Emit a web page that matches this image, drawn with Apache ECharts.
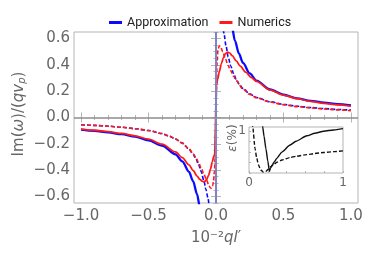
<!DOCTYPE html>
<html><head><meta charset="utf-8">
<script src="https://cdn.jsdelivr.net/npm/echarts@6/dist/echarts.min.js"></script>
<style>html,body{margin:0;padding:0;background:#fff}#c{width:374px;height:253px}</style>
</head><body><div id="c"></div>
<script>
// ---- tick values ----
const xTickLabels = [-1.0, -0.5, 0.0, 0.5, 1.0];
const xMinorTicks = [-1.0,-0.9,-0.8,-0.7,-0.6,-0.5,-0.4,-0.3,-0.2,-0.1,0.0,0.1,0.2,0.3,0.4,0.5,0.6,0.7,0.8,0.9,1.0];
const yTickLabels = [-0.6, -0.4, -0.2, 0.0, 0.2, 0.4, 0.6];
const yMinorTicks = [-0.65,-0.6,-0.55,-0.5,-0.45,-0.4,-0.35,-0.3,-0.25,-0.2,-0.15,-0.1,-0.05,0,0.05,0.1,0.15,0.2,0.25,0.3,0.35,0.4,0.45,0.5,0.55,0.6,0.65];
const insetXLabels = [0, 1];
const insetXMinor = [0,0.2,0.4,0.6,0.8,1.0];
const insetYLabels = [1];
const insetYMinor = [0,0.25,0.5,0.75,1.0];

// ---- Approximation, solid ----
const approxSolidNegX = [-1.0,-0.9,-0.8,-0.7,-0.6,-0.5,-0.4,-0.3,-0.25,-0.2,-0.17,-0.14,-0.12,-0.11];
const approxSolidNegY = [-0.093,-0.102,-0.113,-0.127,-0.146,-0.173,-0.213,-0.28,-0.333,-0.413,-0.484,-0.584,-0.68,-0.74];
const approxSolidPosX = [0.11,0.12,0.14,0.17,0.2,0.25,0.3,0.4,0.5,0.6,0.7,0.8,0.9,1.0];
const approxSolidPosY = [0.74,0.68,0.585,0.485,0.415,0.335,0.28,0.213,0.173,0.146,0.127,0.113,0.101,0.092];
// ---- Approximation, dashed ----
const approxDashNegX = [-1.0,-0.9,-0.8,-0.7,-0.6,-0.5,-0.4,-0.35,-0.3,-0.25,-0.2,-0.17,-0.15,-0.13,-0.11,-0.09,-0.075,-0.06,-0.05,-0.045];
const approxDashNegY = [-0.055,-0.06,-0.066,-0.074,-0.085,-0.099,-0.122,-0.14,-0.163,-0.195,-0.24,-0.28,-0.31,-0.355,-0.41,-0.48,-0.545,-0.61,-0.665,-0.71];
const approxDashPosX = [0.045,0.05,0.06,0.075,0.09,0.11,0.13,0.15,0.17,0.2,0.25,0.3,0.4,0.5,0.6,0.7,0.8,0.9,1.0];
const approxDashPosY = [0.76,0.71,0.63,0.54,0.46,0.39,0.335,0.29,0.255,0.22,0.18,0.152,0.12,0.1,0.086,0.076,0.068,0.061,0.056];
// ---- Numerics, solid ----
const numSolidX = [-1.0,-0.9,-0.8,-0.7,-0.6,-0.5,-0.4,-0.3,-0.25,-0.2,-0.17,-0.14,-0.12,-0.1,-0.085,-0.07,-0.055,-0.04,-0.028,-0.018,-0.01,0.004,0.012,0.025,0.04,0.055,0.07,0.085,0.1,0.12,0.15,0.18,0.22,0.26,0.3,0.4,0.5,0.6,0.7,0.8,0.9,1.0];
const numSolidY = [-0.088,-0.097,-0.108,-0.121,-0.139,-0.165,-0.203,-0.262,-0.305,-0.36,-0.403,-0.445,-0.47,-0.486,-0.488,-0.472,-0.44,-0.39,-0.34,-0.3,-0.28,0.25,0.29,0.35,0.41,0.455,0.485,0.497,0.492,0.47,0.43,0.39,0.345,0.305,0.275,0.21,0.17,0.143,0.123,0.108,0.096,0.087];
// ---- Numerics, dashed ----
const numDashX = [-1.0,-0.9,-0.8,-0.7,-0.6,-0.5,-0.4,-0.35,-0.3,-0.25,-0.2,-0.17,-0.15,-0.13,-0.11,-0.09,-0.07,-0.055,-0.042,-0.033,-0.025,-0.018,-0.012,-0.006,-0.002,0.002,0.008,0.015,0.025,0.035,0.05,0.07,0.09,0.11,0.13,0.15,0.2,0.25,0.3,0.4,0.5,0.6,0.7,0.8,0.9,1.0];
const numDashY = [-0.055,-0.06,-0.066,-0.074,-0.085,-0.099,-0.122,-0.14,-0.163,-0.195,-0.238,-0.275,-0.302,-0.34,-0.385,-0.43,-0.475,-0.51,-0.535,-0.538,-0.52,-0.48,-0.41,-0.3,-0.1,0.15,0.42,0.52,0.545,0.535,0.5,0.445,0.395,0.355,0.315,0.28,0.215,0.176,0.15,0.118,0.097,0.083,0.073,0.065,0.058,0.052];
// ---- Inset: epsilon (%) ----
const epsSolidX = [0.14,0.146,0.16,0.18,0.2,0.217,0.23,0.25,0.27,0.295,0.35,0.437,0.5,0.615,0.7,0.794,0.9,1.0];
const epsSolidY = [1.2,1.1,0.88,0.58,0.29,0.04,0.12,0.2,0.27,0.35,0.5,0.67,0.76,0.89,0.95,1.0,1.03,1.06];
const epsDashX = [0.035,0.04,0.064,0.08,0.1,0.125,0.153,0.18,0.206,0.23,0.26,0.3,0.35,0.437,0.5,0.615,0.7,0.794,0.9,1.0];
const epsDashY = [1.2,1.1,0.59,0.38,0.2,0.07,0.02,0.04,0.09,0.15,0.2,0.26,0.31,0.37,0.40,0.44,0.465,0.49,0.51,0.53];

const zip = (a, b) => a.map((v, i) => [v, b[i]]);
const BLUE = '#0a0aff', RED = '#ff1a1a', FRAME = '#b4b4b4', TXT = '#666';
const FONT = 'DejaVu Sans';
const fmt = v => (v < 0 ? '\u2212' : '') + Math.abs(v).toFixed(1);

function xAx(grid, pos, ticks, len, labels, min, max) {
  return {
    type: 'value', gridIndex: grid, position: pos, min: min, max: max,
    axisLine: { show: false }, splitLine: { show: false },
    axisTick: { show: true, inside: true, length: len, customValues: ticks, lineStyle: { color: FRAME, width: 1 } },
    axisLabel: labels ? { show: true, customValues: labels, formatter: labels.fmt || fmt, color: TXT, fontFamily: FONT, fontSize: labels.size || 15, margin: labels.margin || 5 } : { show: false }
  };
}

const chart = echarts.init(document.getElementById('c'), null, { renderer: 'canvas' });
const insetLbl = insetXLabels.slice(); insetLbl.fmt = v => String(Math.round(v)); insetLbl.size = 12; insetLbl.margin = 4;
const insetYL = insetYLabels.slice(); insetYL.fmt = v => String(Math.round(v)); insetYL.size = 12; insetYL.margin = 3;
const xl = xTickLabels.slice(); xl.margin = 6;
const yl = yTickLabels.slice(); yl.margin = 4;

const lineBase = { type: 'line', showSymbol: false, symbol: 'none', smooth: 0.3, smoothMonotone: 'x', clip: true, xAxisIndex: 0, yAxisIndex: 0, animation: false };

chart.setOption({
  animation: false,
  backgroundColor: '#fff',
  legend: {
    top: 11, left: 104, itemWidth: 13, itemHeight: 3, itemGap: 11, icon: 'rect',
    data: ['Approximation', 'Numerics'],
    textStyle: { fontFamily: 'Roboto', fontSize: 12.5, color: '#222', padding: [0, 0, 0, 0] }
  },
  grid: [
    { left: 74, top: 32, width: 284, height: 171, show: true, borderColor: FRAME, borderWidth: 1, backgroundColor: 'transparent' },
    { left: 249, top: 127, width: 94, height: 46, show: true, borderColor: FRAME, borderWidth: 1, backgroundColor: '#fff', z: 5 }
  ],
  xAxis: [
    xAx(0, 'bottom', xTickLabels, 5, xl, -1.052, 1.052),
    xAx(0, 'bottom', xMinorTicks, 2.5, null, -1.052, 1.052),
    xAx(0, 'top', xTickLabels, 5, null, -1.052, 1.052),
    xAx(0, 'top', xMinorTicks, 2.5, null, -1.052, 1.052),
    Object.assign(xAx(1, 'bottom', insetXMinor, 2, insetLbl, 0, 1), { z: 6 })
  ],
  yAxis: [
    xAx(0, 'left', yTickLabels, 5, yl, -0.65, 0.65),
    xAx(0, 'left', yMinorTicks, 2.5, null, -0.65, 0.65),
    xAx(0, 'right', yTickLabels, 5, null, -0.65, 0.65),
    xAx(0, 'right', yMinorTicks, 2.5, null, -0.65, 0.65),
    Object.assign(xAx(1, 'left', insetYMinor, 2, insetYL, 0, 1.1), { z: 6 })
  ],
  series: [
    Object.assign({}, lineBase, { name: 'Approximation', data: zip(approxSolidNegX, approxSolidNegY), lineStyle: { color: BLUE, width: 2.3 }, itemStyle: { color: BLUE }, z: 2,
      markLine: { silent: true, symbol: 'none', animation: false, label: { show: false },
        data: [ { yAxis: 0, lineStyle: { color: '#8c8c8c', width: 1.5, type: 'solid' } } ] } }),
    Object.assign({}, lineBase, { name: 'Approximation', data: zip(approxSolidPosX, approxSolidPosY), lineStyle: { color: BLUE, width: 2.3 }, itemStyle: { color: BLUE }, z: 2 }),
    Object.assign({}, lineBase, { name: 'Approximation', data: zip(approxDashNegX, approxDashNegY), lineStyle: { color: BLUE, width: 1.6, type: [4, 2] }, itemStyle: { color: BLUE }, z: 2 }),
    Object.assign({}, lineBase, { name: 'Approximation', data: zip(approxDashPosX, approxDashPosY), lineStyle: { color: BLUE, width: 1.6, type: [4, 2] }, itemStyle: { color: BLUE }, z: 2 }),
    Object.assign({}, lineBase, { name: 'Numerics', data: zip(numSolidX, numSolidY), lineStyle: { color: RED, width: 1.8 }, itemStyle: { color: RED }, z: 3 }),
    Object.assign({}, lineBase, { name: 'Numerics', data: zip(numDashX, numDashY), lineStyle: { color: RED, width: 1.6, type: [4, 2] }, itemStyle: { color: RED }, z: 3,
      markLine: { silent: true, symbol: 'none', animation: false, label: { show: false }, z: 4,
        data: [ { xAxis: 0, lineStyle: { color: '#7f82c4', width: 2, type: 'solid' } } ] } }),
    Object.assign({}, lineBase, { name: 'epsSolid', xAxisIndex: 4, yAxisIndex: 4, data: zip(epsSolidX, epsSolidY), smooth: 0.2, lineStyle: { color: '#111', width: 1.4 }, itemStyle: { color: '#111' }, z: 7 }),
    Object.assign({}, lineBase, { name: 'epsDash', xAxisIndex: 4, yAxisIndex: 4, data: zip(epsDashX, epsDashY), smooth: 0.2, lineStyle: { color: '#111', width: 1.4, type: [4, 2] }, itemStyle: { color: '#111' }, z: 7 })
  ],
  graphic: [
    { type: 'text', x: 216, y: 238, z: 10, style: { text: '{n|10\u207B\u00B2}{i|ql}{n|\u2032}', fill: TXT, align: 'center', verticalAlign: 'middle',
      rich: { n: { fontFamily: FONT, fontSize: 15, fill: TXT }, i: { fontFamily: FONT, fontSize: 15, fontStyle: 'italic', fill: TXT } } } },
    { type: 'text', x: 18, y: 114, rotation: Math.PI / 2, z: 10, style: { text: '{n|Im(}{i|\u03C9}{n|)/(}{i|qv}{s|p}{n|)}', fill: TXT, align: 'center', verticalAlign: 'middle',
      rich: { n: { fontFamily: FONT, fontSize: 15, fill: TXT, verticalAlign: 'bottom', lineHeight: 18 }, i: { fontFamily: FONT, fontSize: 15, fontStyle: 'italic', fill: TXT, verticalAlign: 'bottom', lineHeight: 18 }, s: { fontFamily: FONT, fontSize: 10, fontStyle: 'italic', fill: TXT, verticalAlign: 'bottom', lineHeight: 14 } } } },
    { type: 'text', x: 233, y: 138, rotation: Math.PI / 2, z: 10, style: { text: '{i|\u03B5}{n|(%)}', fill: TXT, align: 'center', verticalAlign: 'middle',
      rich: { n: { fontFamily: FONT, fontSize: 12, fill: TXT }, i: { fontFamily: FONT, fontSize: 12, fontStyle: 'italic', fill: TXT } } } }
  ]
});
</script></body></html>
